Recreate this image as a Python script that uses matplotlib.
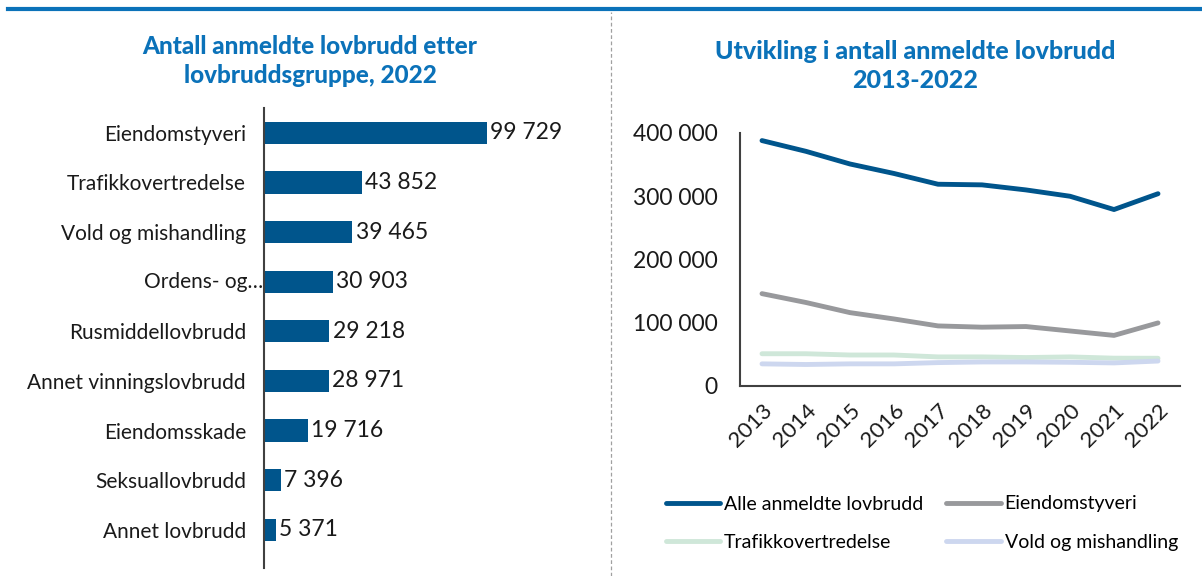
import matplotlib.pyplot as plt
from matplotlib.lines import Line2D

plt.rcParams["font.family"] = ["Lato", "DejaVu Sans"]

# Left chart: anmeldte lovbrudd 2022
groups = ["Eiendomstyveri", "Trafikkovertredelse", "Vold og mishandling",
          "Ordens- og…", "Rusmiddellovbrudd", "Annet vinningslovbrudd",
          "Eiendomsskade", "Seksuallovbrudd", "Annet lovbrudd"]
counts_2022 = [99729, 43852, 39465, 30903, 29218, 28971, 19716, 7396, 5371]

# Right chart: utvikling 2013-2022
years = ["2013", "2014", "2015", "2016", "2017", "2018", "2019", "2020", "2021", "2022"]
alle = [388000, 371000, 351000, 336000, 319000, 318000, 310000, 300000, 279000, 304000]
eiendomstyveri = [146000, 132000, 116000, 106000, 95000, 93000, 94000, 87000, 80000, 99729]
trafikk = [51000, 51000, 49000, 49000, 46000, 46000, 45000, 46000, 44000, 43852]
vold = [35000, 34000, 35000, 35000, 37000, 38000, 38000, 37500, 36500, 39465]

series_names = ["Alle anmeldte lovbrudd", "Eiendomstyveri",
                "Trafikkovertredelse", "Vold og mishandling"]
series_colors = ["#00558C", "#98999C", "#CFE7D9", "#CDD7EF"]

title_color = "#0B72B9"
W, H = 1202, 576


def fmt(v):
    return f"{v:,}".replace(",", " ")


def px_axes(fig, x0, y0, x1, y1):
    # pixel box (top-left origin) -> figure axes
    return fig.add_axes([x0 / W, 1 - y1 / H, (x1 - x0) / W, (y1 - y0) / H])


fig = plt.figure(figsize=(12.02, 5.76), dpi=100)

# decorations
fig.add_artist(Line2D([8 / W, 1], [1 - 9 / H, 1 - 9 / H], color="#0B72B9", lw=3))
fig.add_artist(Line2D([611 / W, 611 / W], [0, 1 - 12 / H], color="#A0A0A0",
                      lw=0.9, ls=(0, (3, 2))))

# ---- left: bar chart
ax1 = px_axes(fig, 264, 108, 580, 568)
pos = list(range(len(groups)))
ax1.barh(pos, counts_2022, height=0.45, color="#00558C")
ax1.set_ylim(8.77, -0.5)
ax1.set_xlim(0, 99729 * 316 / 223)
ax1.set_yticks(pos)
# the truncated label runs up to the axis line, so draw it by hand
tick_labels = [g if "…" not in g else "" for g in groups]
ax1.set_yticklabels(tick_labels, fontsize=15, color="#1A1A1A")
for p, g in zip(pos, groups):
    if "…" in g:
        ax1.text(-0.002, p, g, transform=ax1.get_yaxis_transform(), ha="right",
                 va="center", fontsize=15, color="#1A1A1A")
ax1.tick_params(axis="y", length=0, pad=13)
ax1.set_xticks([])
for s in ["top", "right", "bottom"]:
    ax1.spines[s].set_visible(False)
ax1.spines["left"].set_color("#404040")
ax1.spines["left"].set_linewidth(1.5)
for p, v in zip(pos, counts_2022):
    ax1.text(v + 1500, p, fmt(v), va="center", ha="left", fontsize=16.5, color="#1A1A1A")

fig.text(310 / W, 1 - 61 / H, "Antall anmeldte lovbrudd etter\nlovbruddsgruppe, 2022",
         ha="center", va="center", fontsize=17.5, fontweight="black",
         color=title_color, linespacing=1.3)

# ---- right: line chart
ax2 = px_axes(fig, 740, 133, 1180, 386)
xs = list(range(len(years)))
lines = []
for vals, name, col in zip([alle, eiendomstyveri, trafikk, vold], series_names, series_colors):
    ln, = ax2.plot(xs, vals, color=col, lw=3.5, solid_capstyle="round",
                   solid_joinstyle="round", label=name)
    lines.append(ln)
ax2.set_xlim(-0.5, len(years) - 0.5)
ax2.set_ylim(0, 400000)
ax2.set_yticks([0, 100000, 200000, 300000, 400000])
ax2.set_yticklabels([fmt(v) for v in [0, 100000, 200000, 300000, 400000]],
                    fontsize=16.5, color="#1A1A1A")
ax2.set_xticks(xs)
ax2.set_xticklabels(years, rotation=45, ha="right", rotation_mode="anchor",
                    fontsize=16, color="#1A1A1A")
ax2.tick_params(axis="both", length=0)
ax2.tick_params(axis="y", pad=16)
ax2.tick_params(axis="x", pad=10)
for s in ["top", "right"]:
    ax2.spines[s].set_visible(False)
for s in ["left", "bottom"]:
    ax2.spines[s].set_color("#404040")
    ax2.spines[s].set_linewidth(1.5)

fig.text(915 / W, 1 - 66 / H, "Utvikling i antall anmeldte lovbrudd\n2013-2022",
         ha="center", va="center", fontsize=18, fontweight="black",
         color=title_color, linespacing=1.3)

# legend filled row by row: matplotlib fills columns, so reorder
order = [0, 2, 1, 3]
fig.legend([lines[i] for i in order], [series_names[i] for i in order], ncol=2,
           loc="upper left", bbox_to_anchor=(648 / W, 1 - 478 / H), frameon=False,
           fontsize=14, handlelength=2.8, handletextpad=0.2,
           columnspacing=1.2, labelspacing=1.1)

plt.savefig("out.png", dpi=100)
